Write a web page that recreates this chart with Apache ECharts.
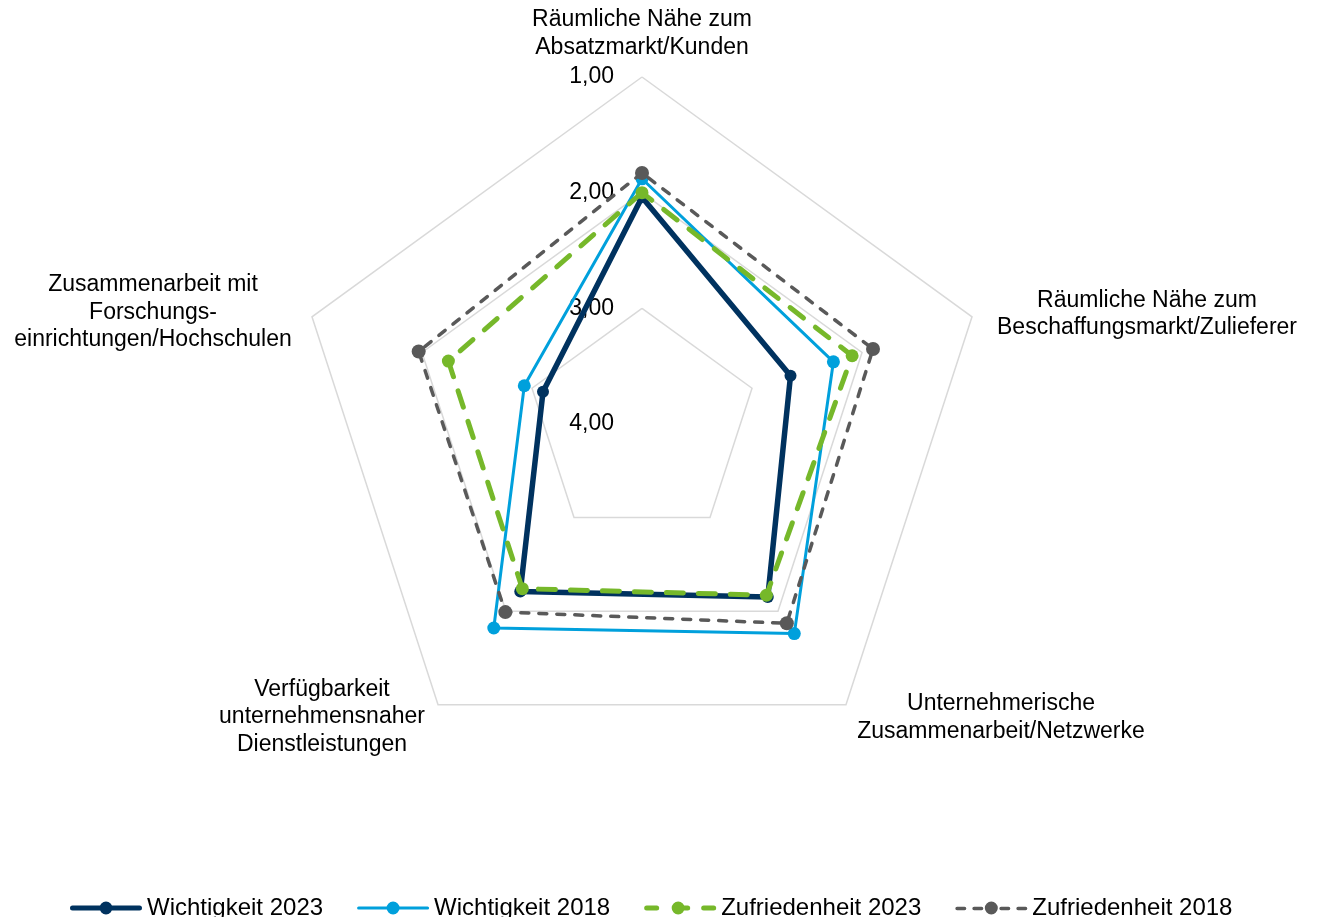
<!DOCTYPE html>
<html>
<head>
<meta charset="utf-8">
<script src="https://cdn.jsdelivr.net/npm/echarts@6/dist/echarts.min.js"></script>
<style>
  html, body { margin: 0; padding: 0; background: #ffffff; }
  #chart { width: 1318px; height: 917px; }
</style>
</head>
<body>
<div id="chart"></div>
<script>
// Standortfaktoren: Wichtigkeit und Zufriedenheit (1 = sehr gut / sehr wichtig, 4 = Mitte)
const categories = [
  'Räumliche Nähe zum\nAbsatzmarkt/Kunden',
  'Räumliche Nähe zum\nBeschaffungsmarkt/Zulieferer',
  'Unternehmerische\nZusammenarbeit/Netzwerke',
  'Verfügbarkeit\nunternehmensnaher\nDienstleistungen',
  'Zusammenarbeit mit\nForschungs-\neinrichtungen/Hochschulen'
];
const seriesNames = ['Wichtigkeit 2023', 'Wichtigkeit 2018', 'Zufriedenheit 2023', 'Zufriedenheit 2018'];
const wichtigkeit2023   = [2.04, 2.65, 2.15, 2.21, 3.10];
const wichtigkeit2018   = [1.88, 2.26, 1.76, 1.82, 2.93];
const zufriedenheit2023 = [2.00, 2.09, 2.17, 2.24, 2.24];
const zufriedenheit2018 = [1.83, 1.90, 1.87, 1.99, 1.97];
const tickLabels = ['1,00', '2,00', '3,00', '4,00'];

// Scale runs from 1 (outer ring) to 4 (centre); the radar axis grows outwards,
// so values are mirrored onto it: plotted = BEST + WORST - value.
const BEST = 1, WORST = 4;
const toAxis = v => BEST + WORST - v;

const FONT = '"Liberation Sans", Arial, sans-serif';
const CENTER = [642, 424];
const RADIUS = 347;

// Radar indicators run counter-clockwise; categories are listed clockwise from the top.
const displayOrder = [0, 4, 3, 2, 1];

const styles = [
  { color: '#00325F', width: 5.5, type: 'solid',  size: 12 },
  { color: '#00A0DC', width: 3,   type: 'solid',  size: 13 },
  { color: '#76B82A', width: 5,   type: [17, 15], size: 13 },
  { color: '#595959', width: 3.5, type: [8, 10],  size: 14 }
];
const values = [wichtigkeit2023, wichtigkeit2018, zufriedenheit2023, zufriedenheit2018];

// Legend icons: line sample with a marker in the middle (72 x 13)
function pill(x0, x1, y0, y1) {
  const r = (y1 - y0) / 2;
  return `M${x0 + r},${y0}H${x1 - r}A${r},${r},0,0,1,${x1 - r},${y1}H${x0 + r}A${r},${r},0,0,1,${x0 + r},${y0}Z`;
}
function dot(cx, cy, r) {
  return `M${cx - r},${cy}A${r},${r},0,1,1,${cx + r},${cy}A${r},${r},0,1,1,${cx - r},${cy}Z`;
}
const legendIcons = [
  'path://' + pill(0, 72, 4, 9) + dot(36, 6.5, 6.5),
  'path://' + pill(0, 72, 5, 8) + dot(36, 6.5, 6.5),
  'path://' + pill(0, 15, 4, 9) + dot(34, 6.5, 6.5) + pill(34, 46, 4, 9) + pill(57, 72, 4, 9),
  'path://' + pill(0, 11, 5.25, 8.75) + pill(17, 28, 5.25, 8.75) + dot(36, 6.5, 6.5) +
              pill(44, 55, 5.25, 8.75) + pill(61, 72, 5.25, 8.75)
];

// Category captions, block centres (clockwise from the top)
const nameCenters = [[642, 33.5], [1147, 314], [1001, 717.5], [322, 717], [153, 312.5]];

const indicator = displayOrder.map((ci, k) => {
  const ind = { name: categories[ci], min: BEST, max: WORST };
  if (k === 0) {
    ind.axisLabel = {
      show: true,
      margin: 28,
      color: '#000000',
      fontSize: 23,
      fontFamily: FONT,
      formatter: t => tickLabels[Math.round(toAxis(t)) - BEST]
    };
  }
  return ind;
});

const series = seriesNames.map((name, s) => ({
  type: 'radar',
  name: name,
  color: styles[s].color,
  symbol: 'circle',
  symbolSize: styles[s].size,
  silent: true,
  z: 2 + s,
  lineStyle: { color: styles[s].color, width: styles[s].width, type: styles[s].type, cap: 'round', join: 'round' },
  itemStyle: { color: styles[s].color, borderWidth: 0 },
  data: [{
    name: name,
    value: displayOrder.map(ci => toAxis(values[s][ci]))
  }]
}));

const chart = echarts.init(document.getElementById('chart'), null, { renderer: 'canvas' });
chart.setOption({
  animation: false,
  backgroundColor: '#ffffff',
  color: styles.map(st => st.color),
  textStyle: { fontFamily: FONT },
  radar: {
    center: CENTER,
    radius: RADIUS,
    startAngle: 90,
    splitNumber: 3,
    shape: 'polygon',
    axisName: { show: false },
    axisLine: { show: false },
    axisTick: { show: false },
    axisLabel: { show: false },
    splitLine: { lineStyle: { color: '#D9D9D9', width: 1.5 } },
    splitArea: { show: false },
    indicator: indicator
  },
  legend: {
    left: 65,
    top: 891,
    itemGap: 34,
    itemWidth: 72,
    itemHeight: 13,
    itemStyle: { borderWidth: 0 },
    textStyle: { fontSize: 24, color: '#000000', fontFamily: FONT },
    selectedMode: false,
    data: seriesNames.map((n, s) => ({ name: n, icon: legendIcons[s] }))
  },
  graphic: categories.map((text, i) => ({
    type: 'text',
    x: nameCenters[i][0],
    y: nameCenters[i][1],
    silent: true,
    style: {
      text: text,
      fill: '#000000',
      fontSize: 23,
      fontFamily: FONT,
      align: 'center',
      verticalAlign: 'middle',
      lineHeight: 27.5
    }
  })),
  series: series
});
</script>
</body>
</html>
